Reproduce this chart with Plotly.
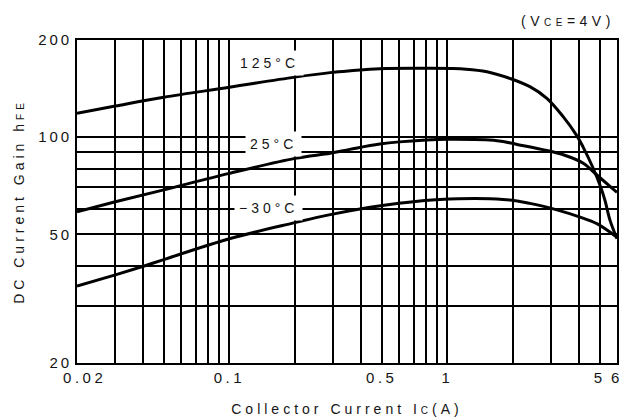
import numpy as np
import plotly.graph_objects as go

# ---- data ----
ic_125 = [0.02, 0.03, 0.05, 0.1, 0.2, 0.29, 0.36, 0.49, 0.8, 1.22, 1.52, 1.94, 2.39, 2.86, 3.39,
          3.93, 4.19, 4.66, 5.01, 5.28, 5.57, 6]
hfe_125 = [118.6, 124.9, 133.0, 142.8, 153.5, 158.5, 160.6, 163.0, 163.5, 162.5, 159.5, 152.0,
           143.4, 132.0, 116.0, 101.0, 93.4, 80.3, 71.1, 63.9, 55.4, 48.5]

ic_25 = [0.02, 0.03, 0.05, 0.1, 0.2, 0.29, 0.357, 0.49, 0.8, 1, 1.69, 2.09, 2.86, 3.39, 4.2, 4.85, 6]
hfe_25 = [58.8, 63.1, 68.7, 77.3, 86.0, 89.2, 91.7, 95.3, 98.0, 98.5, 97.6, 95.0, 91.0, 88.3,
          83.1, 76.4, 67.5]

ic_m30 = [0.02, 0.03, 0.04, 0.05, 0.1, 0.2, 0.29, 0.442, 0.588, 0.925, 1.8, 2.39, 3.18, 4.06,
          4.85, 6]
hfe_m30 = [34.6, 37.5, 39.8, 41.8, 48.5, 54.4, 57.6, 60.7, 62.4, 64.2, 64.2, 62.4, 59.6, 56.6,
           54.0, 49.0]

curve_labels = ["125°C", "25°C", "−30°C"]
label_x = [0.152, 0.160, 0.151]
label_y = [170.3, 95.5, 60.2]

x_grid = [0.02, 0.03, 0.04, 0.05, 0.06, 0.07, 0.08, 0.09, 0.1,
          0.2, 0.3, 0.4, 0.5, 0.6, 0.7, 0.8, 0.9, 1, 2, 3, 4, 5, 6]
x_labels = {0.02: "\u00a0\u00a00.02", 0.1: "0.1", 0.5: "0.5", 1: "1", 5: "5", 6: "6"}
y_grid = [20, 30, 40, 50, 60, 70, 80, 90, 100, 200]
y_labels = {20: "20", 50: "50", 100: "100", 200: "200"}

FONT = "Liberation Sans, Arial, sans-serif"
TXT = "#151515"


def sp(t, ls=4):
    return f"<span style='letter-spacing:{ls}px'>{t}</span>"


def small(t):
    return f"<span style='font-size:10px'>{t}</span>"


fig = go.Figure()
for xs, ys in [(ic_125, hfe_125), (ic_25, hfe_25), (ic_m30, hfe_m30)]:
    fig.add_trace(go.Scatter(x=xs, y=ys, mode="lines",
                             line=dict(color="black", width=3, shape="spline", smoothing=1.0),
                             showlegend=False, hoverinfo="skip", cliponaxis=True))

for t, lx, ly in zip(curve_labels, label_x, label_y):
    fig.add_annotation(x=np.log10(lx), y=np.log10(ly), xref="x", yref="y",
                       text=sp(t, 4), showarrow=False, bgcolor="white", borderpad=4,
                       font=dict(family=FONT, size=14, color=TXT))

fig.add_annotation(x=1, y=1, xref="paper", yref="paper", xanchor="right", yanchor="middle",
                   yshift=19, showarrow=False,
                   text=sp("(V" + small("CE") + "=4V)", 4.5),
                   font=dict(family=FONT, size=14, color=TXT))

axis_common = dict(type="log", showgrid=True, gridcolor="black", gridwidth=1.5,
                   showline=True, linecolor="black", linewidth=1.6, mirror=True,
                   ticks="", zeroline=False, automargin=False,
                   tickfont=dict(family=FONT, size=15, color=TXT))

fig.update_xaxes(**axis_common,
                 range=[np.log10(x_grid[0]), np.log10(x_grid[-1])],
                 tickmode="array", tickvals=x_grid,
                 ticktext=[sp(x_labels[v], 3.5) if v in x_labels else "" for v in x_grid],
                 ticklabelstandoff=0,
                 title=dict(text=sp("Collector Current I" + small("C") + "(A)", 4),
                            font=dict(family=FONT, size=14, color=TXT), standoff=22))
fig.update_yaxes(**axis_common,
                 range=[np.log10(y_grid[0]), np.log10(y_grid[-1])],
                 tickmode="array", tickvals=y_grid,
                 ticktext=[sp(y_labels[v], 3) if v in y_labels else "" for v in y_grid],
                 title=dict(text=sp("DC Current Gain h" + small("FE"), 4),
                            font=dict(family=FONT, size=14, color=TXT), standoff=10))

fig.update_layout(width=628, height=417, margin=dict(l=77, r=11, t=40, b=54, autoexpand=False),
                  paper_bgcolor="white", plot_bgcolor="white")

fig.write_html("out.html")
